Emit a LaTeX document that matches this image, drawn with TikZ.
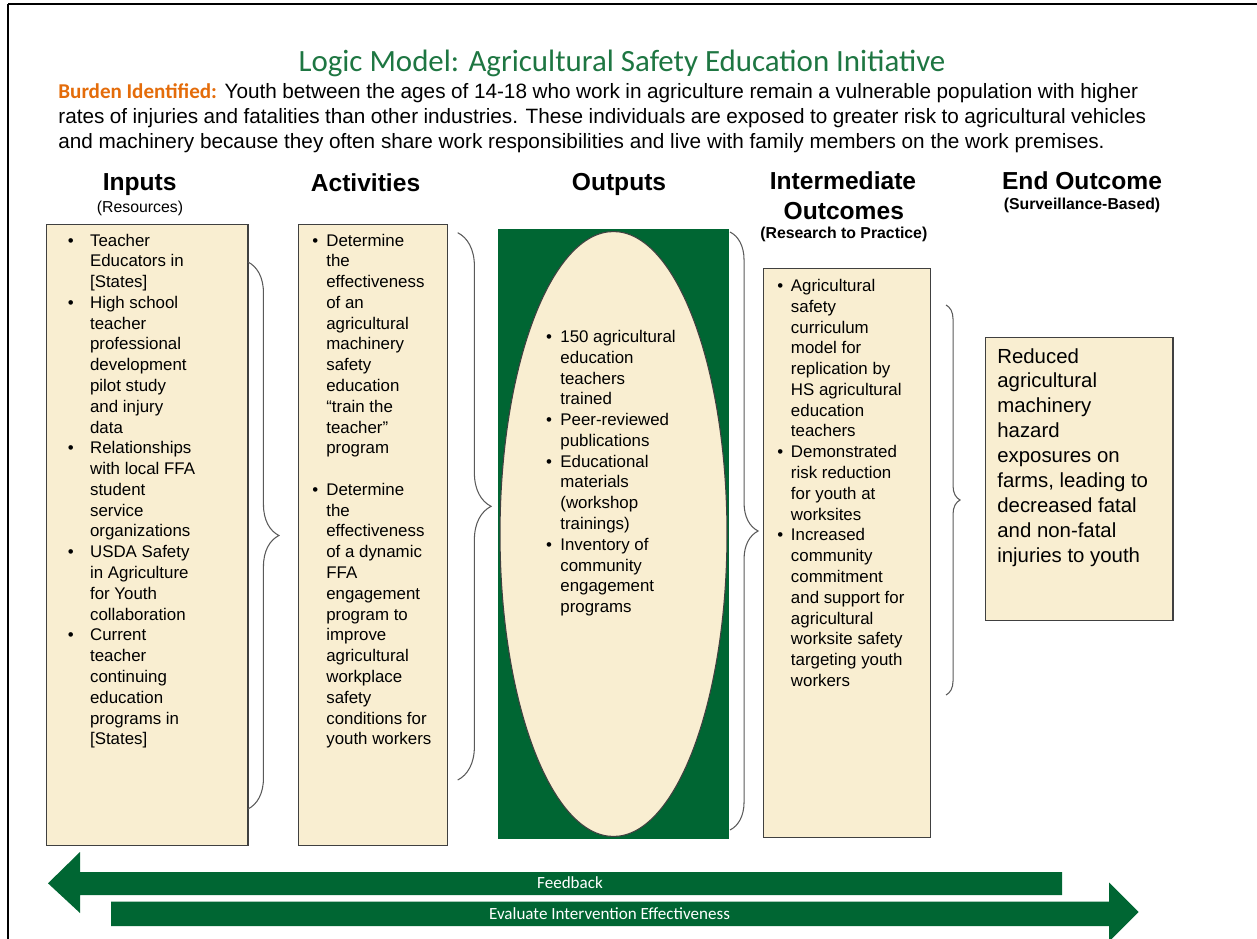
\documentclass[tikz,border=0pt]{standalone}
\usepackage{fontspec}
\setmainfont{Liberation Sans}
\newfontfamily\calibri{Carlito}
\usepackage{xcolor}
\usetikzlibrary{shapes.geometric,decorations.pathreplacing}
\definecolor{ffagreen}{RGB}{0,102,51}
\definecolor{titlegreen}{RGB}{30,118,66}
\definecolor{burdenorange}{RGB}{228,108,10}
\definecolor{cream}{RGB}{249,238,209}
\definecolor{boxline}{RGB}{64,64,64}
\definecolor{bracegray}{RGB}{90,90,90}

% bullet column + text column, first row on the baseline
\newcommand{\bulletlist}[2]{\begin{tabular}[t]{@{}l@{\hspace{#1}}l@{}}#2\end{tabular}}
\newcommand{\textlines}[1]{\begin{tabular}[t]{@{}l@{}}#1\end{tabular}}

\begin{document}
\begin{tikzpicture}[x=0.02cm, y=-0.02cm,
    box/.style={draw=boxline, line width=0.75pt, fill=cream, inner sep=0pt, anchor=north west},
    colhead/.style={anchor=base, inner sep=0pt, font=\fontsize{14}{16}\selectfont\bfseries},
    colsub/.style={anchor=base, inner sep=0pt, font=\fontsize{9}{11}\selectfont},
    items/.style={anchor=base west, inner sep=0pt, font=\fontsize{9.6}{11.83}\selectfont},
    brc/.style={decorate, decoration={brace, amplitude=#1}, draw=bracegray, line width=0.6pt},
    arrowtext/.style={anchor=base, inner sep=0pt, text=white, font=\calibri\fontsize{9.7}{11}\selectfont}
]
    \useasboundingbox (0,0) rectangle (1257,939);

    % page frame
    \draw[line width=1.4pt] (8,4) -- (1257,4);
    \draw[line width=1.4pt] (8,4) -- (8,939);

    % Title and burden statement
    \node[anchor=base, inner sep=0pt, text=titlegreen, font=\calibri\fontsize{17.6}{20}\selectfont]
        (title) at (622,72) {Logic Model: Agricultural Safety Education Initiative};
    \node[anchor=base west, inner sep=0pt, font=\fontsize{11.8}{14.2}\selectfont] (burden) at (58,99)
        {\textlines{\makebox[21.6cm][s]{{\calibri\bfseries\fontsize{12}{14.2}\selectfont\color{burdenorange}Burden Identified:} Youth between the ages of 14-18 who work in agriculture remain a vulnerable population with higher}\\
        \makebox[21.76cm][s]{rates of injuries and fatalities than other industries. These individuals are exposed to greater risk to agricultural vehicles}\\
        and machinery because they often share work responsibilities and live with family members on the work premises.}};

    % Column headings
    \node[colhead] (hinputs) at (139.7,190.7) {Inputs};
    \node[colsub] (sinputs) at (140,213) {(Resources)};
    \node[colhead] (hactivities) at (365.5,191.7) {Activities};
    \node[colhead] (houtputs) at (619,190.8) {Outputs};
    \node[colhead] (hinter) at (843,189.3) {Intermediate};
    \node[colhead] (hinter2) at (843.8,219.3) {Outcomes};
    \node[colsub, font=\fontsize{9}{11}\selectfont\bfseries] (sinter) at (843.8,238.7) {(Research to Practice)};
    \node[colhead] (hend) at (1082,189.3) {End Outcome};
    \node[colsub, font=\fontsize{9}{11}\selectfont\bfseries] (send) at (1082,210) {(Surveillance-Based)};

    % Inputs
    \node[box, minimum width=4.036cm, minimum height=12.42cm] (inputs) at (45.5,224) {};
    \node[items] (inputslist) at (67.5,246) {\bulletlist{9.3pt}{
        \textbullet & Teacher\\ & Educators in\\ & [States]\\
        \textbullet & High school\\ & teacher\\ & professional\\ & development\\ & pilot study\\ & and injury\\ & data\\
        \textbullet & Relationships\\ & with local FFA\\ & student\\ & service\\ & organizations\\
        \textbullet & USDA Safety\\ & in Agriculture\\ & for Youth\\ & collaboration\\
        \textbullet & Current\\ & teacher\\ & continuing\\ & education\\ & programs in\\ & [States]}};

    % Activities
    \node[box, minimum width=2.98cm, minimum height=12.42cm] (activities) at (297.7,224) {};
    \node[items] (activitieslist) at (312,246) {\bulletlist{4.6pt}{
        \textbullet & Determine\\ & the\\ & effectiveness\\ & of an\\ & agricultural\\ & machinery\\ & safety\\ & education\\ & “train the\\ & teacher”\\ & program\\ & \\
        \textbullet & Determine\\ & the\\ & effectiveness\\ & of a dynamic\\ & FFA\\ & engagement\\ & program to\\ & improve\\ & agricultural\\ & workplace\\ & safety\\ & conditions for\\ & youth workers}};

    % Outputs
    \node[anchor=north west, fill=ffagreen, inner sep=0pt, minimum width=4.61cm, minimum height=12.2cm] (outputs) at (498,229) {};
    \node[ellipse, draw=boxline, line width=0.6pt, fill=cream, inner sep=0pt,
        minimum width=4.54cm, minimum height=12.1cm] (outell) at (613.5,534) {};
    \node[items] (outputslist) at (545.7,342.5) {\bulletlist{4.8pt}{
        \textbullet & 150 agricultural\\ & education\\ & teachers\\ & trained\\
        \textbullet & Peer-reviewed\\ & publications\\
        \textbullet & Educational\\ & materials\\ & (workshop\\ & trainings)\\
        \textbullet & Inventory of\\ & community\\ & engagement\\ & programs}};

    % Intermediate outcomes
    \node[box, minimum width=3.344cm, minimum height=11.38cm] (inter) at (762.5,268) {};
    \node[items] (interlist) at (777,291.5) {\bulletlist{4.4pt}{
        \textbullet & Agricultural\\ & safety\\ & curriculum\\ & model for\\ & replication by\\ & HS agricultural\\ & education\\ & teachers\\
        \textbullet & Demonstrated\\ & risk reduction\\ & for youth at\\ & worksites\\
        \textbullet & Increased\\ & community\\ & commitment\\ & and support for\\ & agricultural\\ & worksite safety\\ & targeting youth\\ & workers}};

    % End outcome
    \node[box, minimum width=3.76cm, minimum height=5.66cm] (endout) at (984.5,337) {};
    \node[anchor=base west, inner sep=0pt, font=\fontsize{11.6}{14.2}\selectfont] (endtext) at (997,363)
        {\textlines{Reduced\\agricultural\\machinery\\hazard\\exposures on\\farms, leading to\\decreased fatal\\and non-fatal\\injuries to youth}};

    % Braces between columns
    \draw[brc=17.6pt] (248,262) -- (248,809);
    \draw[brc=19pt] (457.7,232.7) -- (457.7,780);
    \draw[brc=16pt] (730,232) -- (730,830);
    \draw[brc=8pt] (946,305) -- (946,695);

    % Feedback / evaluation arrows
    \fill[ffagreen] (48,883.3) -- (80,852) -- (80,872) -- (1062,872) -- (1062,895) -- (80,895) -- (80,913) -- cycle;
    \fill[ffagreen] (1138.5,912) -- (1109,882.5) -- (1109,901.5) -- (111,901.5) -- (111,926) -- (1109,926) -- (1109,941.5) -- cycle;
    \node[arrowtext] (feedback) at (570,888.5) {Feedback};
    \node[arrowtext] (evaluate) at (609.5,919.5) {Evaluate Intervention Effectiveness};
\end{tikzpicture}
\end{document}
